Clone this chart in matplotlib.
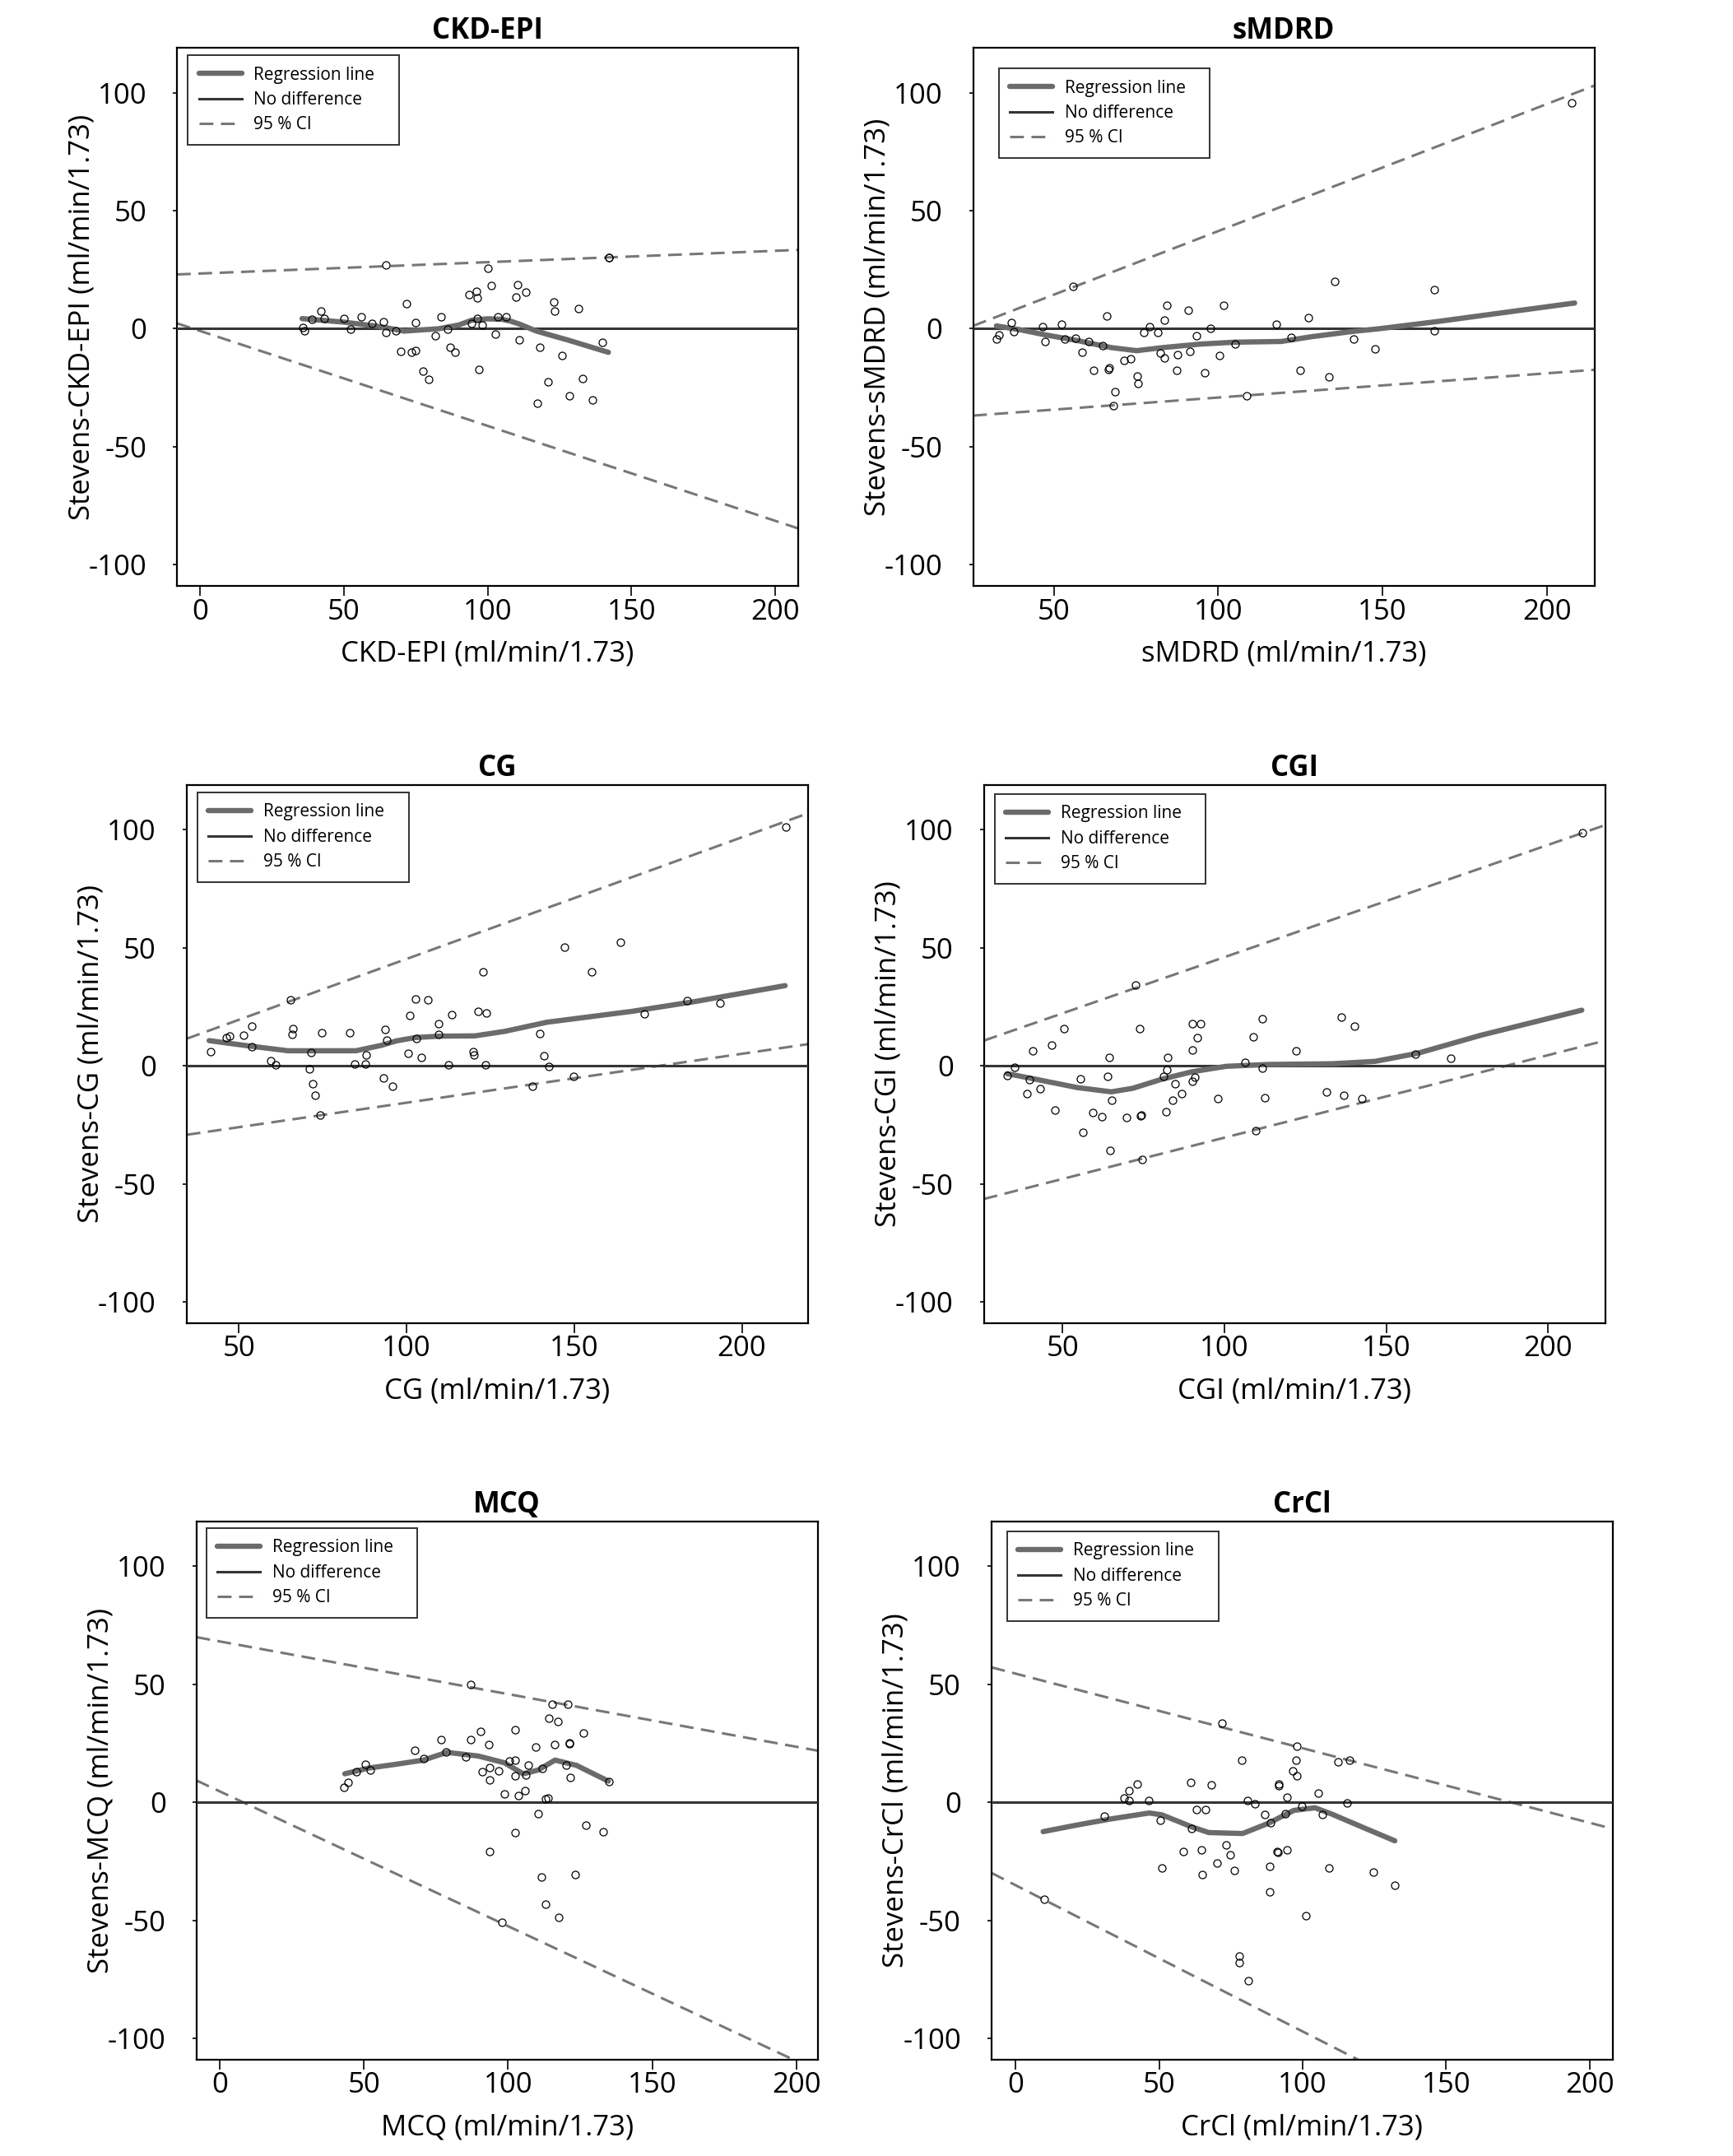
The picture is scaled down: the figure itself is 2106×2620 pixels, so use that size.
import matplotlib
matplotlib.use("Agg")
import matplotlib.pyplot as plt
from matplotlib.lines import Line2D

# ------------------------------
# Style
# ------------------------------
plt.rcParams["font.family"] = ["Open Sans", "DejaVu Sans"]
plt.rcParams["axes.unicode_minus"] = False

REG_COLOR = "#6b6b6b"
CI_COLOR = "#777777"
ZERO_COLOR = "#353535"

# ------------------------------
# Data
# ------------------------------
ckd_x = [35.9, 36.3, 38.8, 42, 43.3, 50.2, 52.4, 56, 59.8, 63.8, 64.7, 64.7, 68.2, 69.9,
         71.8, 73.4, 75, 75, 77.5, 79.5, 81.7, 83.9, 86, 87.1, 88.6, 93.6, 94.5, 96, 96.5,
         96.5, 96.9, 98.2, 100, 101.3, 102.7, 103.7, 106.4, 110, 110.5, 111.1, 113.4,
         117.4, 118.3, 121.1, 122.9, 123.3, 126, 128.5, 131.5, 133, 136.6, 139.9, 142.1, 142.2]
ckd_y = [0.5, -1, 4, 7.5, 4.3, 4.3, -0.3, 5, 2.3, 3.1, 26.9, -1.5, -1, -9.6,
         10.7, -10.1, 2.5, -9.2, -17.9, -21.6, -3, 5.1, -0.3, -7.8, -10.1, 14.4, 2.3, 15.7, 12.9,
         4.3, -17.4, 1.7, 25.6, 18.3, -2.2, 5.1, 5.1, 13.4, 18.8, -4.7, 15.5,
         -31.7, -7.8, -22.4, 11.3, 7.5, -11.2, -28.3, 8.5, -21, -30.1, -5.7, 30.3, 30.0]
ckd_reg_x = [35.5, 50, 62, 71, 83, 90, 94.5, 100, 105, 108, 111, 117, 128.5, 142]
ckd_reg_y = [4.3, 2.8, 1.0, -1, 0, 1.6, 3.6, 4.2, 4, 3.2, 2, -1, -5, -10]
ckd_ci_x = [-8, 208]
ckd_ci_upper = [23, 33.4]
ckd_ci_lower = [2.3, -84.6]

smdrd_x = [32.5, 33.4, 37.1, 37.7, 46.5, 47.4, 52.3, 53.2, 55.8, 56.5, 58.7, 60.6, 62.2,
           64.9, 66.2, 66.6, 66.9, 68.6, 68.2, 71.3, 73.3, 75.4, 75.5, 77.4, 79.1, 81.7,
           82.3, 83.6, 83.6, 84.5, 87.3, 87.6, 90.9, 91.3, 93.3, 95.8, 97.7, 100.5, 101.7,
           105.2, 108.6, 117.7, 122.2, 124.9, 127.4, 133.8, 135.4, 141.3, 147.8, 165.8,
           165.9, 207.6]
smdrd_y = [-4.2, -2.6, 2.5, -1.1, 0.8, -5.3, 2, -4.5, 17.9, -3.9, -10.1, -5.4, -17.7,
           -7.3, 5.4, -17.1, -16.6, -26.7, -32.6, -13.5, -12.9, -20, -23.1, -1.6, 0.9, -1.6,
           -10.4, 3.6, -12.3, 10.1, -17.7, -10.9, 7.9, -9.6, -3.1, -18.5, 0.3, -11.2, 10.1,
           -6.5, -28.3, 2, -3.6, -17.7, 4.7, -20.5, 20.2, -4.2, -8.5, 16.6,
           -0.9, 95.7]
smdrd_reg_x = [32.5, 40, 47.4, 57.1, 67.5, 75.2, 83, 94.6, 105, 119.2, 128.3, 141.2, 149, 167, 208.5]
smdrd_reg_y = [1.2, -0.5, -2.6, -5, -8, -9.3, -8, -6.5, -5.7, -5.4, -3.4, -1.1, 0, 3.1, 10.9]
smdrd_ci_x = [25.4, 214.5]
smdrd_ci_upper = [1.2, 103]
smdrd_ci_lower = [-36.8, -17.4]

cg_x = [41.5, 46.2, 47.1, 51.3, 53.8, 53.8, 59.5, 61, 65.3, 65.8, 66.2, 70.9, 71.5, 71.9,
        72.8, 74.1, 74.7, 83, 84.6, 87.6, 88, 93.1, 93.7, 94, 95.9, 100.4, 100.9, 102.6,
        103, 104.5, 106.4, 109.6, 109.6, 112.4, 113.5, 119.8, 120.1, 121.4, 122.9, 123.6,
        123.8, 137.6, 139.7, 141, 142.5, 147.2, 149.7, 155.2, 163.7, 170.8, 183.7, 193.5,
        213.1]
cg_y = [5.9, 12, 12.7, 13, 16.9, 8.1, 2.2, 0.3, 28, 13.5, 15.8, -1.4, 5.6, -7.5,
        -12.3, -20.8, 14.1, 14.1, 0.9, 0.9, 4.5, -5, 15.4, 11, -8.7, 5.3, 21.3, 28.4,
        11.5, 3.7, 28, 13.4, 18, 0.3, 21.7, 6.1, 4.5, 23, 39.9, 0.3,
        22.4, -8.5, 13.7, 4.2, -0.2, 50.3, -4.3, 39.9, 52.5, 21.9, 27.5, 26.7,
        101.2]
cg_reg_x = [41.1, 53.2, 64.6, 74.7, 84.9, 92.5, 97, 102.6, 110, 120.3, 129.2, 141.9, 154.6, 167.2, 186.2, 212.9]
cg_reg_y = [10.7, 8.4, 6.4, 6.4, 6.4, 8.7, 10.6, 12, 12.6, 12.7, 14.6, 18.5, 20.8, 23.1, 27.3, 34]
cg_ci_x = [34.4, 219.7]
cg_ci_upper = [11.5, 107]
cg_ci_lower = [-29.2, 9.2]

cgi_x = [32.9, 35.2, 39.8, 39, 40.8, 43.2, 46.7, 47.6, 50.5, 55.6, 56.2, 59.3, 62.2, 64,
         64.4, 64.8, 65.1, 69.8, 72.7, 73.9, 74, 74.3, 74.7, 81.1, 81.9, 82.2, 82.4, 84,
         84.8, 86.9, 90, 92.7, 90.2, 91.7, 90.2, 91, 97.9, 106.4, 108.8, 109.6, 111.7,
         111.7, 112.5, 122.2, 131.6, 136.1, 136.9, 140.2, 142.5, 158.9, 169.8, 210.5]
cgi_y = [-4, -0.6, -5.9, -11.8, 6.4, -9.5, 8.7, -18.8, 15.8, -5.6, -28.1, -19.9, -21.6, -4.5,
         3.7, -35.9, -14.4, -21.9, 34.3, 15.7, -21.1, -20.8, -39.8, -4.5, -19.3, -1.7, 3.7, -14.4,
         -7.5, -11.8, 18, 18, 6.8, 12, -6.7, -4.8, -13.8, 1.4, 12.4, -27.6, 20,
         -0.9, -13.4, 6.4, -11.2, 20.8, -12.3, 16.9, -13.8, 4.8, 3.3, 98.8]
cgi_reg_x = [32.9, 41.5, 54.6, 65.1, 71.7, 80.8, 90, 100.5, 113.6, 133.3, 146.5, 159.6, 179.3, 210.4]
cgi_reg_y = [-3.3, -5.6, -9.2, -11, -9.5, -5.6, -2.5, -0.2, 0.6, 0.9, 1.9, 5.3, 13, 23.6]
cgi_ci_x = [25.7, 217.6]
cgi_ci_upper = [10.7, 102]
cgi_ci_lower = [-56.4, 10.7]

mcq_x = [43.2, 44.6, 47.4, 50.4, 52.3, 67.7, 70.9, 76.7, 78.5, 85.4, 87.2, 87.2, 90.6, 91,
         93.2, 93.5, 93.5, 93.7, 96.9, 97.9, 98.7, 100.5, 102.4, 102.4, 102.4, 102.4, 103.7,
         106, 106.3, 106.9, 109.7, 110.5, 111.5, 111.9, 113, 113, 113.8, 114.3, 115.2,
         116.1, 117.4, 117.5, 120.2, 120.8, 121.2, 121.3, 121.6, 123.3, 126.2, 127.1, 133,
         134.9]
mcq_y = [6.4, 8.6, 12.9, 16, 13.7, 22.2, 18.7, 26.6, 21.2, 19.1, 49.8, 26.6, 30, 12.9,
         24.4, 14.8, 9.5, -20.7, 13.4, -50.9, 3.6, 17.4, 17.9, 30.6, 11.4, -12.9, 3,
         5.1, 11.7, 15.7, 23.5, -4.7, -31.6, 14.5, -43.1, 1.6, 2, 35.5, 41.5,
         24.4, 34.4, -48.8, 15.7, 41.5, 25.3, 24.9, 10.7, -30.6, 29.4, -9.6, -12.4,
         8.9]
mcq_reg_x = [43.4, 51.5, 60.4, 70.7, 78.8, 89.8, 98.7, 105.3, 110.5, 116.3, 123.7, 134.8]
mcq_reg_y = [12.1, 14.5, 16, 17.9, 21.2, 19.6, 16.8, 12.1, 13.7, 17.9, 15.7, 9]
mcq_ci_x = [-8.1, 207.4]
mcq_ci_upper = [70, 21.9]
mcq_ci_lower = [9.3, -113.8]

crcl_x = [9.9, 30.9, 37.7, 39.5, 39.5, 42.5, 46.4, 50.4, 51, 58.3, 61.1, 61.4, 62.9, 64.6,
          65.1, 66.1, 68.3, 70.1, 72, 73.4, 74.7, 76.2, 78, 78, 78.8, 80.8, 81.2, 83.4,
          86.7, 88.5, 88.6, 88.9, 91, 91.3, 91.6, 91.6, 93.9, 94.4, 94.5, 96.6, 97.8,
          98.1, 98.1, 99.6, 101, 105.5, 107, 109.2, 112.3, 115.5, 116.4, 124.7, 132]
crcl_y = [-41.1, -5.9, 2, 0.8, 5.1, 7.9, 0.8, -7.6, -27.8, -20.8, 8.4, -10.9, -3.1, -20.2,
          -30.6, -3.1, 7.3, -25.7, 33.7, -17.9, -22.4, -28.9, -65.2, -68, 17.9, 0.9, -75.7, -0.5,
          -5.3, -27.2, -37.8, -8.6, -20.8, -21.3, 7.8, 7, -4.7, 2.3, -20.2, 13.2, 17.9,
          23.8, 11.2, -1.6, -48.2, 3.9, -5.1, -27.8, 17.1, -0.3, 17.9, -29.5, -35]
crcl_reg_x = [9.6, 21.4, 33.3, 46.6, 51, 61.4, 67.3, 79.1, 88, 96.9, 104.3, 110.2, 120.6, 132.1]
crcl_reg_y = [-12.4, -9.6, -7, -4.5, -5.3, -10.4, -12.8, -13.2, -8.9, -3.4, -2.3, -5, -10.4, -16.3]
crcl_ci_x = [-8.4, 208]
crcl_ci_upper = [57.2, -11.2]
crcl_ci_lower = [-29.9, -164]

titles = ["CKD-EPI", "sMDRD", "CG", "CGI", "MCQ", "CrCl"]
y_ticks = [-100, -50, 0, 50, 100]
x_ticks_from_zero = [0, 50, 100, 150, 200]
x_ticks_from_fifty = [50, 100, 150, 200]
legend_labels = ["Regression line", "No difference", "95 % CI"]

# ------------------------------
# Panel layout (figure fractions)
# ------------------------------
PANEL_W = 0.3585
PANEL_H = 0.2496
panels = [
    dict(name=titles[0], rect=[0.1021, 0.7282], xlim=(-8, 208), xticks=x_ticks_from_zero,
         x=ckd_x, y=ckd_y, rx=ckd_reg_x, ry=ckd_reg_y,
         cx=ckd_ci_x, cu=ckd_ci_upper, cl=ckd_ci_lower, leg=(13, 9)),
    dict(name=titles[1], rect=[0.5615, 0.7282], xlim=(25.4, 214.5), xticks=x_ticks_from_fifty,
         x=smdrd_x, y=smdrd_y, rx=smdrd_reg_x, ry=smdrd_reg_y,
         cx=smdrd_ci_x, cu=smdrd_ci_upper, cl=smdrd_ci_lower, leg=(31, 25)),
    dict(name=titles[2], rect=[0.1077, 0.3863], xlim=(34.4, 219.7), xticks=x_ticks_from_fifty,
         x=cg_x, y=cg_y, rx=cg_reg_x, ry=cg_reg_y,
         cx=cg_ci_x, cu=cg_ci_upper, cl=cg_ci_lower, leg=(13, 9)),
    dict(name=titles[3], rect=[0.5677, 0.3863], xlim=(25.7, 217.6), xticks=x_ticks_from_fifty,
         x=cgi_x, y=cgi_y, rx=cgi_reg_x, ry=cgi_reg_y,
         cx=cgi_ci_x, cu=cgi_ci_upper, cl=cgi_ci_lower, leg=(13, 11)),
    dict(name=titles[4], rect=[0.1133, 0.0447], xlim=(-8.1, 207.4), xticks=x_ticks_from_zero,
         x=mcq_x, y=mcq_y, rx=mcq_reg_x, ry=mcq_reg_y,
         cx=mcq_ci_x, cu=mcq_ci_upper, cl=mcq_ci_lower, leg=(12, 8)),
    dict(name=titles[5], rect=[0.5721, 0.0447], xlim=(-8.4, 208), xticks=x_ticks_from_zero,
         x=crcl_x, y=crcl_y, rx=crcl_reg_x, ry=crcl_reg_y,
         cx=crcl_ci_x, cu=crcl_ci_upper, cl=crcl_ci_lower, leg=(19, 12)),
]

CI_STYLE = dict(color=CI_COLOR, lw=2.2, ls=(0, (5.5, 3)))
REG_STYLE = dict(color=REG_COLOR, lw=4.6, solid_capstyle="round")
ZERO_STYLE = dict(color=ZERO_COLOR, lw=2.2)


def draw_panel(fig, p):
    ax = fig.add_axes([p["rect"][0], p["rect"][1], PANEL_W, PANEL_H])
    ax.set_xlim(*p["xlim"])
    ax.set_ylim(-109, 119)

    # 95% CI, no-difference line, regression line, points
    ax.plot(p["cx"], p["cu"], zorder=2, **CI_STYLE)
    ax.plot(p["cx"], p["cl"], zorder=2, **CI_STYLE)
    ax.axhline(0, zorder=3, **ZERO_STYLE)
    ax.plot(p["rx"], p["ry"], zorder=4, **REG_STYLE)
    ax.plot(p["x"], p["y"], ls="none", marker="o", ms=6.5, mfc="none",
            mec="black", mew=0.9, zorder=5)

    ax.set_xticks(p["xticks"])
    ax.set_yticks(y_ticks)
    ax.tick_params(axis="x", labelsize=25, length=8.5, width=1.2, pad=2)
    ax.tick_params(axis="y", labelsize=25, length=3.6, width=1.2, pad=23)
    for s in ax.spines.values():
        s.set_linewidth(1.6)
        s.set_color("black")

    ax.set_title(p["name"], fontsize=25, fontweight="bold", pad=8)
    ax.set_xlabel(f"{p['name']} (ml/min/1.73)", fontsize=25)
    ax.set_ylabel(f"Stevens-{p['name']} (ml/min/1.73)", fontsize=25)
    ax.xaxis.set_label_coords(0.5, -0.1)
    ax.yaxis.set_label_coords(-0.131, 0.5)

    handles = [Line2D([], [], **REG_STYLE), Line2D([], [], **ZERO_STYLE),
               Line2D([], [], **CI_STYLE)]
    labels = [legend_labels[0] + "   ", legend_labels[1], legend_labels[2]]
    ox, oy = p["leg"]
    leg = ax.legend(handles, labels,
                    loc="upper left", bbox_to_anchor=(ox / 755, 1 - oy / 655),
                    fontsize=15, frameon=True, fancybox=False, borderpad=0.65,
                    labelspacing=0.45, handlelength=2.5, handletextpad=0.7,
                    borderaxespad=0)
    leg.get_frame().set_edgecolor("black")
    leg.get_frame().set_linewidth(1.4)
    return ax


if __name__ == "__main__":
    fig = plt.figure(figsize=(21.06, 26.2), dpi=100)
    for p in panels:
        draw_panel(fig, p)
    fig.savefig("out.png", dpi=100, facecolor="white")
